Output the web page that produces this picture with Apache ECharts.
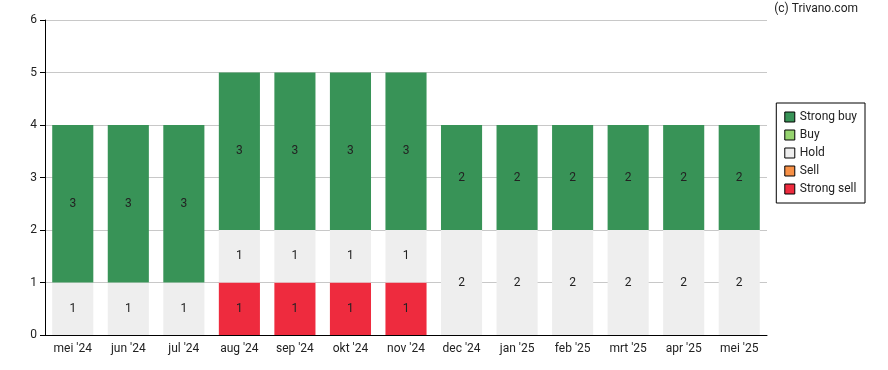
<!DOCTYPE html>
<html><head><meta charset="utf-8">
<script src="https://cdn.jsdelivr.net/npm/echarts@6/dist/echarts.min.js"></script>
<style>html,body{margin:0;padding:0;background:#fff}#c{width:888px;height:370px}</style>
</head><body><div id="c"></div>
<script>
const categories = ["mei '24","jun '24","jul '24","aug '24","sep '24","okt '24","nov '24","dec '24","jan '25","feb '25","mrt '25","apr '25","mei '25"];
const strongSell = [0,0,0,1,1,1,1,0,0,0,0,0,0];
const sell = [0,0,0,0,0,0,0,0,0,0,0,0,0];
const hold = [1,1,1,1,1,1,1,2,2,2,2,2,2];
const buy = [0,0,0,0,0,0,0,0,0,0,0,0,0];
const strongBuy = [3,3,3,3,3,3,3,2,2,2,2,2,2];
const yTicks = [0,1,2,3,4,5,6];

const chart = echarts.init(document.getElementById('c'));
const font = 'Roboto, "Noto Sans", sans-serif';
function mk(name, data, color) {
  return {
    name, type: 'bar', stack: 'a', data, barWidth: '74%',
    itemStyle: { color },
    label: { show: true, position: 'inside', color: '#222', fontFamily: font, fontSize: 12,
      formatter: p => p.value ? String(p.value) : '' }
  };
}
chart.setOption({
  animation: false,
  grid: { left: 45, right: 121, top: 20, bottom: 35 },
  graphic: [{ type: 'text', right: 30, top: 3, style: { text: '(c) Trivano.com', font: '12px ' + font, fill: '#222' } }],
  legend: {
    orient: 'vertical', right: 23, top: 103, itemWidth: 10, itemHeight: 10, itemGap: 6,
    borderColor: '#000', borderWidth: 1, borderRadius: 0, padding: [8, 8, 8, 8],
    textStyle: { fontFamily: font, fontSize: 12, color: '#222' }, icon: 'rect',
    data: ['Strong buy','Buy','Hold','Sell','Strong sell'].map(n => ({ name: n, itemStyle: { borderColor: '#000', borderWidth: 1 } }))
  },
  xAxis: {
    type: 'category', data: categories,
    axisLine: { lineStyle: { color: '#000' } },
    axisTick: { alignWithLabel: true, lineStyle: { color: '#000' } },
    axisLabel: { fontFamily: font, fontSize: 12, color: '#222', margin: 8 }
  },
  yAxis: {
    type: 'value', min: 0, max: 6, interval: 1,
    axisLine: { show: true, lineStyle: { color: '#000' } },
    axisTick: { show: true, lineStyle: { color: '#000' } },
    axisLabel: { fontFamily: font, fontSize: 12, color: '#222', margin: 8, formatter: v => yTicks.includes(v) ? String(v) : '' },
    splitLine: { lineStyle: { color: '#c8c8c8' } }
  },
  series: [
    mk('Strong sell', strongSell, '#ee2b3e'),
    mk('Sell', sell, '#f79046'),
    mk('Hold', hold, '#eeeeee'),
    mk('Buy', buy, '#96d46f'),
    mk('Strong buy', strongBuy, '#389357')
  ]
});
</script></body></html>
